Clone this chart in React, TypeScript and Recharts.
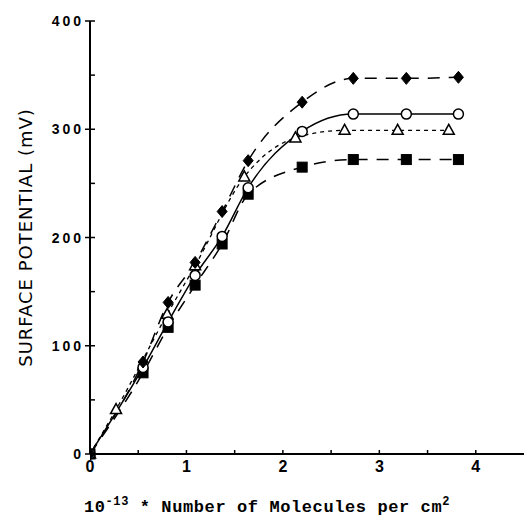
import React from 'react';
import { LineChart, Line, XAxis, YAxis, Label } from 'recharts';

const xMain = [0, 0.55, 0.81, 1.09, 1.37, 1.64, 2.2, 2.73, 3.28, 3.82];
const yDiamond = [0, 85, 140, 177, 224, 271, 325, 347, 347, 348];
const yCircle = [0, 80, 122, 165, 201, 246, 298, 314, 314, 314];
const ySquare = [0, 75, 117, 156, 194, 240, 265, 272, 272, 272];
const xTriangle = [0, 0.27, 0.8, 1.09, 1.6, 2.13, 2.64, 3.19, 3.72];
const yTriangle = [0, 41, 129, 174, 256, 292, 299, 299, 299];

const xTicks = [0, 0.5, 1, 1.5, 2, 2.5, 3, 3.5, 4];
const xTickLabels = ['0', '', '1', '', '2', '', '3', '', '4'];
const yTicks = [0, 50, 100, 150, 200, 250, 300, 350, 400];
const yTickLabels = ['0', '', '100', '', '200', '', '300', '', '400'];

const zip = (xs: number[], ys: number[]) => xs.map((x, i) => ({ x, y: ys[i] }));
const diamondData = zip(xMain, yDiamond);
const circleData = zip(xMain, yCircle);
const squareData = zip(xMain, ySquare);
const triangleData = zip(xTriangle, yTriangle);

const Diamond = (p: any) => {
  const { cx, cy } = p;
  if (cx == null || cy == null) return <g key={p.key} />;
  return <path key={p.key} d={`M${cx},${cy - 6}L${cx + 5},${cy}L${cx},${cy + 6}L${cx - 5},${cy}Z`} fill="#000" stroke="#000" strokeWidth={1} />;
};
const Circle = (p: any) => {
  const { cx, cy } = p;
  if (cx == null || cy == null) return <g key={p.key} />;
  return <circle key={p.key} cx={cx} cy={cy} r={5} fill="#fff" stroke="#000" strokeWidth={1.5} />;
};
const Square = (p: any) => {
  const { cx, cy } = p;
  if (cx == null || cy == null) return <g key={p.key} />;
  return <rect key={p.key} x={cx - 5} y={cy - 5} width={10} height={10} fill="#000" stroke="#000" />;
};
const Triangle = (p: any) => {
  const { cx, cy } = p;
  if (cx == null || cy == null) return <g key={p.key} />;
  return <path key={p.key} d={`M${cx},${cy - 6}L${cx + 5.5},${cy + 4}L${cx - 5.5},${cy + 4}Z`} fill="#fff" stroke="#000" strokeWidth={1.5} />;
};

const YTick = (p: any) => {
  const { x, y, payload } = p;
  const idx = yTicks.indexOf(payload.value);
  const label = yTickLabels[idx] || '';
  const major = label !== '';
  return (
    <g>
      <line x1={major ? x - 5 : x} x2={x + 5} y1={y} y2={y} stroke="#000" strokeWidth={1.5} />
      {label && (
        <text x={x - 6} y={y} dy={5} textAnchor="end" fontFamily="Liberation Sans, Arial, sans-serif" fontWeight="bold" fontSize={14} letterSpacing={3} fill="#000">
          {label}
        </text>
      )}
    </g>
  );
};

const XTick = (p: any) => {
  const { x, y, payload } = p;
  const idx = xTicks.indexOf(payload.value);
  const label = xTickLabels[idx] || '';
  return (
    <g>
      <line x1={x} x2={x} y1={y} y2={y - 4} stroke="#000" strokeWidth={1.5} />
      {label && (
        <text x={x} y={y} dy={18} textAnchor="middle" fontFamily="Liberation Sans, Arial, sans-serif" fontWeight="bold" fontSize={16} fill="#000">
          {label}
        </text>
      )}
    </g>
  );
};

const XLabel = (p: any) => {
  const vb = p.viewBox || {};
  const cx = vb.x + vb.width / 2 - 40;
  const cy = vb.y + vb.height - 12;
  return (
    <text x={cx} y={cy} textAnchor="middle" fontFamily="Liberation Mono, DejaVu Sans Mono, monospace" fontWeight="bold" fontSize={17} letterSpacing={0.6} fill="#000">
      <tspan>10</tspan>
      <tspan dy={-7} fontSize={12}>-13</tspan>
      <tspan dy={7}> * Number of Molecules per cm</tspan>
      <tspan dy={-7} fontSize={12}>2</tspan>
    </text>
  );
};

export default function App() {
  return (
    <div style={{ position: 'absolute', left: 0, top: 0, background: '#fff' }}>
      <LineChart width={524} height={524} margin={{ top: 21, right: 0, bottom: 0, left: 0 }}>
        <XAxis
          type="number"
          dataKey="x"
          domain={[0, 4.5]}
          ticks={xTicks}
          allowDataOverflow
          height={70}
          tickSize={0}
          tickMargin={0}
          tickLine={false}
          tick={<XTick />}
          axisLine={{ stroke: '#000', strokeWidth: 2 }}
        >
          <Label content={<XLabel />} />
        </XAxis>
        <YAxis
          type="number"
          dataKey="y"
          domain={[0, 400]}
          ticks={yTicks}
          width={90}
          tickSize={0}
          tickMargin={0}
          tickLine={false}
          tick={<YTick />}
          axisLine={{ stroke: '#000', strokeWidth: 2 }}
        >
          <Label
            value="SURFACE POTENTIAL (mV)"
            angle={-90}
            position="insideLeft"
            offset={26}
            style={{ textAnchor: 'middle', fontFamily: 'DejaVu Sans, sans-serif', fontSize: 18, letterSpacing: 1, fill: '#000' }}
          />
        </YAxis>
        <Line data={squareData} dataKey="y" type="monotone" stroke="#000" strokeWidth={1.5} strokeDasharray="12 9" dot={Square} isAnimationActive={false} />
        <Line data={triangleData} dataKey="y" type="monotone" stroke="#000" strokeWidth={1.3} strokeDasharray="4 4" dot={Triangle} isAnimationActive={false} />
        <Line data={circleData} dataKey="y" type="monotone" stroke="#000" strokeWidth={1.5} dot={Circle} isAnimationActive={false} />
        <Line data={diamondData} dataKey="y" type="monotone" stroke="#000" strokeWidth={1.5} strokeDasharray="12 9" dot={Diamond} isAnimationActive={false} />
      </LineChart>
    </div>
  );
}
